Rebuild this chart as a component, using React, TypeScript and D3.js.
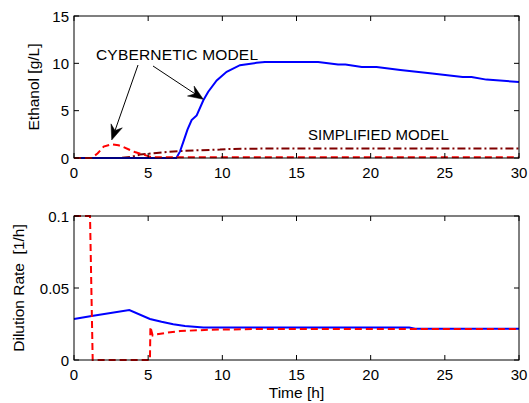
import React from "react";
import * as d3 from "d3";

// ---------- data ----------
const xTicks = [0, 5, 10, 15, 20, 25, 30];
const ethTicks = [0, 5, 10, 15];
const dilTicks = [0, 0.05, 0.1];
const dilTickLabels = ["0", "0.05", "0.1"];

// Ethanol – cybernetic model (blue solid)
const tEthCyb = [0, 6.9, 7.15, 7.37, 7.65, 7.93, 8.27, 8.72, 9.05, 9.62, 10.29, 11.19, 12.3, 12.87, 16.46, 17.8, 18.3, 19.4, 20.4, 22, 24, 26.2, 26.8, 27.8, 30];
const vEthCyb = [0, 0, 0.7, 1.7, 3.0, 4.0, 4.5, 6.1, 7.0, 8.2, 9.1, 9.8, 10.05, 10.14, 10.14, 9.87, 9.87, 9.61, 9.61, 9.3, 8.95, 8.56, 8.56, 8.28, 8.03];
// Ethanol – cybernetic model (red dashed)
const tEthRed = [0, 1.2, 1.6, 2.0, 2.54, 3.0, 3.32, 3.7, 4.1, 4.67, 5.0, 5.3, 30];
const vEthRed = [0, 0, 0.5, 1.2, 1.45, 1.35, 1.16, 0.9, 0.63, 0.36, 0.2, 0.07, 0.07];
// Ethanol – simplified model (dark red dash-dot)
const tEthSimp = [0, 3.0, 3.8, 4.45, 5.0, 5.57, 6.3, 7.14, 8.5, 9.84, 10.5, 11.86, 30];
const vEthSimp = [0, 0, 0.1, 0.36, 0.45, 0.53, 0.65, 0.74, 0.82, 0.89, 0.95, 0.99, 1.0];

// Dilution rate – blue solid
const tDilBlue = [0, 1.19, 3.73, 5.12, 5.9, 6.69, 7.48, 8.72, 22.6, 23.0, 30];
const vDilBlue = [0.0285, 0.0306, 0.0347, 0.0285, 0.0265, 0.0248, 0.0236, 0.0225, 0.0225, 0.0217, 0.0217];
// Dilution rate – red dashed
const tDilRed = [0, 1.08, 1.26, 5.12, 5.15, 5.3, 5.57, 6.3, 7.14, 9.16, 13, 30];
const vDilRed = [0.1, 0.1, 0, 0, 0.023, 0.017, 0.0178, 0.019, 0.0201, 0.021, 0.0216, 0.0216];

// ---------- layout ----------
const W = 529, H = 403;
const L = 74, R = 519;
const top1 = 16, bot1 = 158;
const top2 = 216, bot2 = 360;
const FONT = "Arial, 'Liberation Sans', Helvetica, sans-serif";
const FS = 15;
const FL = 15.5;

const x = d3.scaleLinear().domain([0, 30]).range([L, R]);
const y1 = d3.scaleLinear().domain([0, 15]).range([bot1, top1]);
const y2 = d3.scaleLinear().domain([0, 0.1]).range([bot2, top2]);

function mkLine(ts: number[], vs: number[], ys: d3.ScaleLinear<number, number>) {
  const pts = ts.map((t, i) => [t, vs[i]] as [number, number]);
  return d3.line<[number, number]>().x(d => x(d[0])).y(d => ys(d[1]))(pts) || "";
}

function Arrow({ x0, y0, x1, y1: yy1 }: { x0: number; y0: number; x1: number; y1: number }) {
  const dx = x1 - x0, dy = yy1 - y0;
  const len = Math.hypot(dx, dy);
  const ux = dx / len, uy = dy / len;
  const px = -uy, py = ux;
  const hl = 15, hw = 6, notch = 10;
  const bx = x1 - ux * hl, by = yy1 - uy * hl;
  const nx = x1 - ux * notch, ny = yy1 - uy * notch;
  const head = `M${x1},${yy1} L${bx + px * hw},${by + py * hw} L${nx},${ny} L${bx - px * hw},${by - py * hw} Z`;
  return (
    <g>
      <line x1={x0} y1={y0} x2={nx} y2={ny} stroke="#000" strokeWidth={1} />
      <path d={head} fill="#000" stroke="#000" strokeWidth={0.5} />
    </g>
  );
}

function Frame({ top, bot, ys, ticks, labels }: { top: number; bot: number; ys: d3.ScaleLinear<number, number>; ticks: number[]; labels: string[] }) {
  const tl = 5;
  return (
    <g>
      <rect x={L} y={top} width={R - L} height={bot - top} fill="none" stroke="#000" strokeWidth={1} />
      {xTicks.map(t => (
        <g key={"x" + t}>
          <line x1={x(t)} x2={x(t)} y1={bot} y2={bot - tl} stroke="#000" />
          <line x1={x(t)} x2={x(t)} y1={top} y2={top + tl} stroke="#000" />
          <text x={x(t)} y={bot + 20} textAnchor="middle" fontSize={FS} fontFamily={FONT} fill="#000">{t}</text>
        </g>
      ))}
      {ticks.map((t, i) => (
        <g key={"y" + t}>
          <line x1={L} x2={L + tl} y1={ys(t)} y2={ys(t)} stroke="#000" />
          <line x1={R} x2={R - tl} y1={ys(t)} y2={ys(t)} stroke="#000" />
          <text x={L - 5} y={ys(t) + 5.5} textAnchor="end" fontSize={FS} fontFamily={FONT} fill="#000">{labels[i]}</text>
        </g>
      ))}
    </g>
  );
}

export default function App() {
  return (
    <svg width={W} height={H} style={{ position: "absolute", left: 0, top: 0, background: "#fff" }}>
      <rect width={W} height={H} fill="#fff" />
      {/* top panel */}
      <path d={mkLine(tEthSimp, vEthSimp, y1)} fill="none" stroke="#800000" strokeWidth={2} strokeDasharray="8,3,2,3" />
      <path d={mkLine(tEthCyb, vEthCyb, y1)} fill="none" stroke="#0000ff" strokeWidth={2} />
      <path d={mkLine(tEthRed, vEthRed, y1)} fill="none" stroke="#ff0000" strokeWidth={2} strokeDasharray="7,4" />
      <Frame top={top1} bot={bot1} ys={y1} ticks={ethTicks} labels={ethTicks.map(String)} />
      <text x={96} y={59.5} fontSize={FL} fontFamily={FONT} fill="#000" textLength={162}>CYBERNETIC MODEL</text>
      <text x={308} y={140} fontSize={FS} fontFamily={FONT} fill="#000">SIMPLIFIED MODEL</text>
      <Arrow x0={138} y0={65} x1={111.7} y1={140} />
      <Arrow x0={153} y0={66} x1={203.3} y1={99.3} />
      <text transform={`translate(39,${(top1 + bot1) / 2}) rotate(-90)`} textAnchor="middle" fontSize={FL} fontFamily={FONT} fill="#000">Ethanol [g/L]</text>

      {/* bottom panel */}
      <path d={mkLine(tDilBlue, vDilBlue, y2)} fill="none" stroke="#0000ff" strokeWidth={2} />
      <path d={mkLine(tDilRed, vDilRed, y2)} fill="none" stroke="#ff0000" strokeWidth={2} strokeDasharray="7,4" />
      <Frame top={top2} bot={bot2} ys={y2} ticks={dilTicks} labels={dilTickLabels} />
      <text transform={`translate(24,${(top2 + bot2) / 2}) rotate(-90)`} textAnchor="middle" fontSize={FL} fontFamily={FONT} fill="#000" style={{ whiteSpace: "pre" }}>{"Dilution Rate  [1/h]"}</text>
      <text x={(L + R) / 2} y={398} textAnchor="middle" fontSize={FL} fontFamily={FONT} fill="#000">Time [h]</text>
    </svg>
  );
}
